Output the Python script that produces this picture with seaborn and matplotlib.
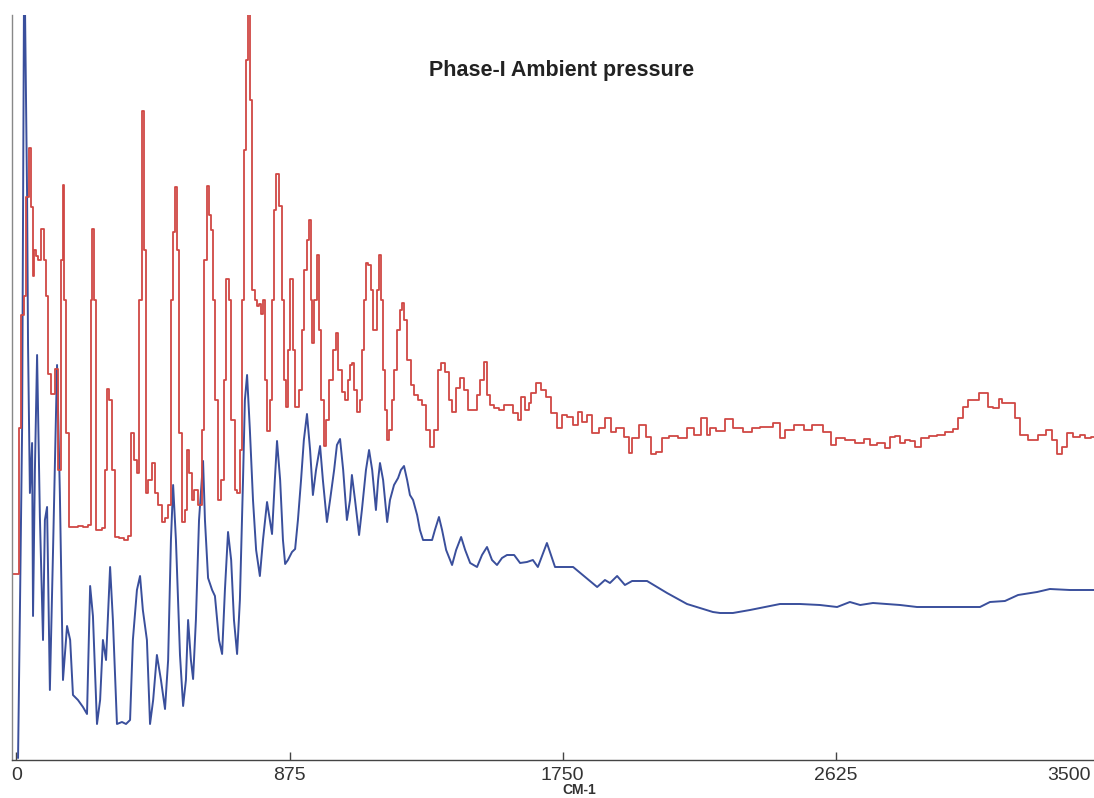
import matplotlib
matplotlib.use("Agg")
import matplotlib.pyplot as plt
import seaborn as sns
import pandas as pd

# ---- data (wavenumber in cm-1, intensity in arbitrary units) ----
red_wavenumber = [-14, 5, 11, 21, 27, 37, 43, 50, 53, 59, 66, 75, 85, 91, 98, 107, 117, 130, 139, 146,
                  149, 155, 162, 172, 188, 204, 220, 236, 242, 245, 252, 258, 268, 280, 287, 293, 300, 309, 322, 338,
                  351, 364, 373, 383, 389, 399, 405, 412, 418, 428, 438, 450, 460, 470, 482, 492, 498, 505, 511, 518,
                  524, 534, 543, 550, 556, 566, 575, 588, 598, 604, 614, 620, 627, 633, 639, 652, 662, 668, 678, 684,
                  694, 704, 710, 720, 726, 732, 739, 745, 752, 758, 768, 774, 780, 787, 793, 800, 806, 816, 822, 828,
                  835, 845, 854, 860, 867, 873, 883, 889, 899, 909, 918, 928, 934, 941, 947, 950, 960, 966, 973, 979,
                  989, 998, 1008, 1018, 1027, 1037, 1047, 1056, 1066, 1072, 1079, 1085, 1095, 1104, 1111, 1117, 1123, 1133, 1140, 1146,
                  1152, 1159, 1165, 1172, 1178, 1184, 1191, 1197, 1207, 1216, 1226, 1232, 1239, 1248, 1258, 1268, 1281, 1293, 1306, 1319,
                  1332, 1345, 1357, 1367, 1380, 1390, 1402, 1415, 1428, 1441, 1454, 1470, 1482, 1492, 1502, 1511, 1524, 1540, 1556, 1566,
                  1582, 1598, 1614, 1623, 1636, 1646, 1655, 1672, 1688, 1704, 1720, 1742, 1752, 1774, 1796, 1806, 1822, 1838, 1854, 1877,
                  1896, 1912, 1934, 1957, 1966, 1982, 2008, 2024, 2040, 2062, 2078, 2104, 2136, 2159, 2181, 2207, 2216, 2232, 2255, 2287,
                  2309, 2351, 2361, 2405, 2441, 2454, 2473, 2511, 2534, 2566, 2601, 2617, 2639, 2671, 2704, 2726, 2745, 2774, 2790, 2809,
                  2825, 2838, 2857, 2873, 2889, 2912, 2937, 2966, 2986, 3014, 3024, 3040, 3056, 3082, 3088, 3111, 3117, 3143, 3152, 3168,
                  3194, 3207, 3226, 3258, 3290, 3312, 3328, 3344, 3360, 3376, 3399, 3415, 3434, 3453]
red_intensity = [186, 186, 332, 445, 464, 563, 612, 553, 484, 510, 504, 500, 531, 500, 464, 386, 366, 391, 290, 500,
                 575, 460, 327, 233, 233, 234, 233, 235, 460, 531, 460, 230, 230, 232, 290, 371, 360, 290, 223, 222,
                 220, 224, 327, 300, 287, 460, 649, 510, 267, 280, 297, 267, 255, 238, 242, 255, 460, 528, 573, 510,
                 327, 238, 250, 310, 287, 260, 270, 255, 330, 500, 574, 545, 530, 460, 360, 260, 280, 380, 481, 460,
                 340, 270, 267, 310, 460, 610, 700, 760, 660, 470, 460, 454, 456, 446, 460, 380, 329, 360, 460, 550,
                 586, 554, 460, 380, 353, 410, 481, 410, 353, 370, 430, 490, 520, 540, 460, 417, 460, 505, 430, 360,
                 314, 340, 380, 410, 427, 390, 368, 360, 380, 395, 397, 370, 348, 360, 410, 460, 497, 495, 470, 430,
                 430, 470, 505, 460, 390, 350, 320, 330, 360, 390, 430, 450, 457, 440, 400, 375, 365, 360, 355, 330,
                 313, 330, 390, 397, 388, 360, 348, 372, 382, 370, 350, 350, 365, 380, 398, 365, 355, 352, 350, 355,
                 355, 347, 340, 363, 350, 357, 367, 377, 370, 363, 347, 332, 345, 343, 335, 348, 338, 345, 327, 332,
                 342, 328, 332, 323, 307, 322, 335, 323, 306, 308, 322, 324, 322, 332, 325, 342, 325, 332, 329, 341,
                 332, 328, 332, 333, 337, 322, 330, 335, 330, 335, 328, 315, 322, 320, 317, 321, 315, 317, 312, 323,
                 324, 317, 320, 319, 313, 322, 324, 325, 328, 331, 342, 353, 360, 360, 367, 367, 353, 352, 361, 357,
                 357, 342, 325, 320, 325, 330, 320, 306, 313, 327, 323, 325, 322, 323]

blue_wavenumber = [5, 11, 18, 24, 27, 34, 37, 43, 50, 53, 59, 66, 75, 85, 91, 98, 107, 117, 130, 139,
                   149, 162, 172, 181, 197, 213, 226, 236, 245, 258, 268, 277, 287, 300, 309, 322, 338, 351, 364, 373,
                   386, 396, 405, 418, 428, 438, 450, 463, 476, 486, 495, 502, 511, 524, 534, 543, 550, 559, 566, 575,
                   585, 598, 604, 614, 627, 636, 649, 659, 668, 678, 688, 697, 707, 716, 726, 732, 739, 748, 758, 768,
                   780, 790, 803, 812, 819, 828, 835, 845, 854, 861, 870, 883, 893, 902, 912, 921, 931, 941, 950, 960,
                   973, 982, 995, 1005, 1018, 1027, 1037, 1047, 1059, 1069, 1075, 1085, 1098, 1107, 1120, 1130, 1140, 1152, 1159, 1165,
                   1175, 1188, 1197, 1210, 1223, 1232, 1242, 1252, 1261, 1271, 1284, 1293, 1303, 1319, 1332, 1341, 1354, 1364, 1377, 1396,
                   1409, 1425, 1438, 1454, 1476, 1492, 1508, 1524, 1540, 1556, 1572, 1595, 1614, 1636, 1655, 1671, 1700, 1726, 1784, 1861,
                   1886, 1902, 1925, 1950, 1973, 2021, 2085, 2149, 2232, 2255, 2296, 2351, 2447, 2511, 2575, 2630, 2671, 2704, 2745, 2832,
                   2886, 3088, 3120, 3168, 3210, 3271, 3312, 3376, 3453]
blue_intensity = [2, 149, 332, 760, 760, 563, 415, 267, 317, 144, 290, 405, 243, 120, 240, 253, 70, 208, 395, 267,
                  80, 134, 120, 65, 60, 53, 46, 174, 144, 36, 60, 120, 100, 193, 140, 36, 38, 36, 40, 120,
                  170, 184, 150, 120, 36, 60, 105, 80, 51, 100, 220, 275, 220, 105, 54, 80, 140, 100, 81, 140,
                  240, 299, 240, 182, 170, 164, 120, 106, 170, 228, 200, 140, 106, 160, 280, 360, 385, 330, 260, 210,
                  184, 220, 258, 240, 226, 280, 319, 280, 220, 196, 200, 208, 211, 240, 280, 320, 346, 310, 265, 290,
                  314, 280, 238, 260, 290, 315, 321, 290, 240, 260, 285, 260, 225, 250, 290, 310, 290, 250, 280, 297,
                  280, 238, 260, 275, 282, 290, 294, 280, 265, 260, 245, 230, 220, 220, 220, 230, 243, 230, 210, 195,
                  210, 223, 210, 197, 193, 205, 213, 200, 195, 202, 205, 205, 197, 198, 200, 193, 217, 193, 193, 173,
                  180, 177, 184, 175, 179, 179, 167, 156, 148, 147, 147, 150, 156, 156, 155, 153, 158, 155, 157, 155,
                  153, 153, 158, 159, 165, 168, 171, 170, 170]

tick_values = [0, 875, 1750, 2625]
tick_labels = ["0", "875", "1750", "2625"]
last_tick_label = "3500"
title_text = "Phase-I Ambient pressure"
x_label_text = "CM-1"

red_df = pd.DataFrame({"wavenumber": red_wavenumber, "intensity": red_intensity})
blue_df = pd.DataFrame({"wavenumber": blue_wavenumber, "intensity": blue_intensity})

sns.set_style("white")
plt.rcParams["font.family"] = ["Liberation Sans", "DejaVu Sans"]

W, H = 1094, 798
fig = plt.figure(figsize=(W / 100, H / 100), dpi=100)
ax = fig.add_axes([12 / W, 1 - 760 / H, (W - 12) / W, (760 - 15) / H])

sns.lineplot(data=blue_df, x="wavenumber", y="intensity", ax=ax, color="#3a4f9c",
             linewidth=1.4, estimator=None, sort=False)
sns.lineplot(data=red_df, x="wavenumber", y="intensity", ax=ax, color="#d04844",
             linewidth=1.3, estimator=None, sort=False, drawstyle="steps-mid")

ax.set_xlim(-14.4, 3453.4)
ax.set_ylim(0, 745)
ax.set_xticks(tick_values)
ax.set_xticklabels(tick_labels)
ax.set_yticks([])
ax.set_xlabel("")
ax.set_ylabel("")
ax.tick_params(axis="x", bottom=True, direction="in", length=6, width=1, color="#444444",
               labelsize=14, labelcolor="#333333", pad=5)

for side in ["top", "right"]:
    ax.spines[side].set_visible(False)
ax.spines["left"].set_color("#888888")
ax.spines["left"].set_linewidth(1.0)
ax.spines["bottom"].set_color("#444444")
ax.spines["bottom"].set_linewidth(1.0)

ax.text(0.508, 0.925, title_text, transform=ax.transAxes, ha="center", va="center",
        fontsize=15.5, fontweight="bold", color="#222222")
fig.text(1091 / W, 1 - 775 / H, last_tick_label, ha="right", va="center",
         fontsize=14, color="#333333")
fig.text(579 / W, 1 - 790 / H, x_label_text, ha="center", va="center",
         fontsize=10, fontweight="bold", color="#333333")

fig.savefig("out.png", dpi=100, facecolor="white")
